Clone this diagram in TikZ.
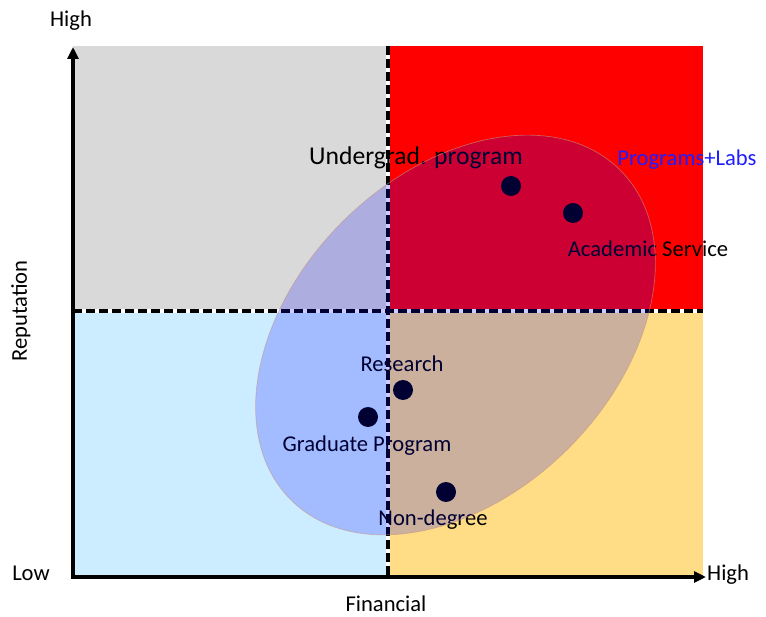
\documentclass[tikz,border=0pt]{standalone}
\usepackage{fontspec}
\setmainfont{Carlito}
\usetikzlibrary{arrows.meta}
\definecolor{qgray}{RGB}{217,217,217}
\definecolor{qblue}{RGB}{204,236,255}
\definecolor{qred}{RGB}{255,0,0}
\definecolor{qyellow}{RGB}{255,221,134}
\definecolor{dotcol}{RGB}{0,0,0}
\definecolor{rimcol}{RGB}{200,150,130}
\definecolor{labblue}{RGB}{30,30,255}
\tikzset{
  lbl/.style={inner sep=0pt, font=\fontsize{22.6}{26}\selectfont},
  biglbl/.style={inner sep=0pt, font=\fontsize{25.6}{30}\selectfont},
  dotnode/.style={circle, fill=dotcol, minimum size=20pt, inner sep=0pt},
  axisline/.style={line width=3.5pt, -{Triangle[length=12pt,width=11pt]}},
  divider/.style={line width=3.2pt, dash pattern=on 9pt off 4pt},
  dividerbg/.style={line width=3.2pt, white},
}
\begin{document}
\begin{tikzpicture}[x=1pt,y=-1pt]
\useasboundingbox (0,0) rectangle (766,617);
% quadrants
\fill[qgray] (73,46) rectangle (388,311);
\fill[qblue] (73,311) rectangle (388,577);
\fill[qred] (388,46) rectangle (703,311);
\fill[qyellow] (388,311) rectangle (703,577);
% dividers
\coordinate (vt) at (388,46);
\coordinate (vb) at (388,577);
\coordinate (hl) at (73,311);
\coordinate (hr) at (703,311);
\draw[dividerbg] (vt) -- (vb);
\draw[dividerbg] (hl) -- (hr);
\draw[divider] (vt) -- (vb);
\draw[divider] (hl) -- (hr);
% axes
\coordinate (o) at (73,577);
\coordinate (ytop) at (73,47);
\coordinate (xend) at (706,577);
\draw[axisline] ([yshift=-1.75pt]o) -- (ytop);
\draw[axisline] ([xshift=-1.75pt]o) -- (xend);
% axis labels
\node[lbl] (hightop) at (71,21) {High};
\node[lbl] (low) at (31,573) {Low};
\node[lbl, anchor=west] (highright) at (707,575) {High};
\node[lbl] (fin) at (386,604) {Financial};
\node[lbl, rotate=90] (rep) at (21,311) {Reputation};
% point labels
\node[biglbl] (lug) at (416,158) {Undergrad. program};
\node[lbl, text=labblue] (lpl) at (687,160) {Programs+Labs};
\node[lbl] (las) at (648,249) {Academic Service};
\node[lbl] (lre) at (402,364) {Research};
\node[lbl] (lgp) at (367,446) {Graduate Program};
\node[lbl] (lnd) at (433,520) {Non-degree};
% dots
\node[dotnode] (dug) at (511,186) {};
\node[dotnode] (das) at (573,213) {};
\node[dotnode] (dre) at (403,390) {};
\node[dotnode] (dgp) at (368,417) {};
\node[dotnode] (dnd) at (446,492) {};
% ellipse
\coordinate (ec) at (455.5,335);
\fill[blue, opacity=0.2, shift={(ec)}, rotate=45] (0,0) ellipse [x radius=233pt, y radius=160pt];
\draw[rimcol, line width=0.7pt, opacity=0.6, shift={(ec)}, rotate=45] (0,0) ellipse [x radius=233pt, y radius=160pt];
\end{tikzpicture}
\end{document}
